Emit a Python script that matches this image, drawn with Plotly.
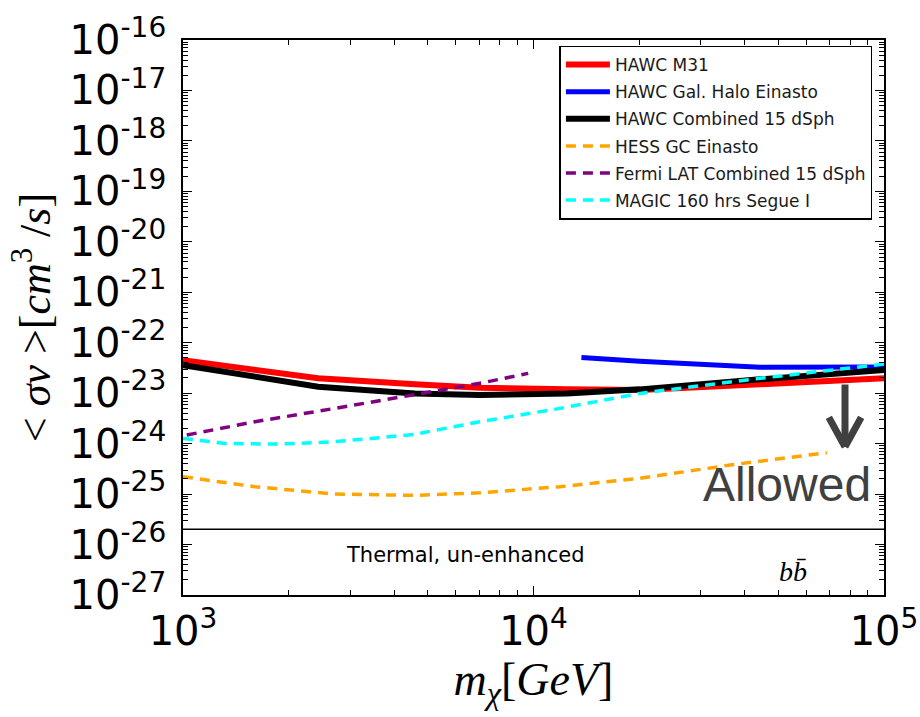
import plotly.graph_objects as go
import math

# ---------------- data ----------------
x_m31 = [1000, 2430, 4590, 7030, 12450, 20100, 44300, 100000]
y_m31 = [4.5e-23, 1.97e-23, 1.50e-23, 1.28e-23, 1.19e-23, 1.16e-23, 1.50e-23, 1.97e-23]

x_halo = [13700, 20100, 44300, 100000]
y_halo = [5.1e-23, 4.3e-23, 3.25e-23, 3.3e-23]

x_dsph = [1000, 2430, 4590, 7030, 12450, 20100, 44300, 100000]
y_dsph = [3.6e-23, 1.34e-23, 9.9e-24, 9.2e-24, 9.9e-24, 1.19e-23, 1.88e-23, 2.88e-23]

x_hess = [1000, 1604, 2715, 4590, 7030, 11900, 20100, 36400, 68700]
y_hess = [2.21e-25, 1.40e-25, 1.00e-25, 9.45e-26, 1.06e-25, 1.40e-25, 2.05e-25, 3.77e-25, 6.6e-25]

x_fermi = [1025, 1604, 2715, 4590, 7030, 9660]
y_fermi = [1.48e-24, 2.72e-24, 5.0e-24, 9.2e-24, 1.57e-23, 2.47e-23]

x_magic = [1000, 1318, 1828, 2540, 3300, 4590, 7030, 11900, 20100, 44300, 100000]
y_magic = [1.27e-24, 1.01e-24, 9.8e-25, 1.06e-24, 1.23e-24, 1.53e-24, 2.72e-24, 5.0e-24, 9.9e-24, 1.97e-23, 3.78e-23]

thermal_value = 2.0e-26
x_exponents = [3, 4, 5]
y_exponents = list(range(-27, -15))
x_ticklabels = ["10<sup>%d</sup>" % e for e in x_exponents]
y_ticklabels = ["10<sup>%d</sup>" % e for e in y_exponents]

series = [
    ("HAWC M31", x_m31, y_m31, "red", 6, "solid"),
    ("HAWC Gal. Halo Einasto", x_halo, y_halo, "blue", 5, "solid"),
    ("HAWC Combined 15 dSph", x_dsph, y_dsph, "black", 6, "solid"),
    ("HESS GC Einasto", x_hess, y_hess, "orange", 3.5, "10px,7px"),
    ("Fermi LAT Combined 15 dSph", x_fermi, y_fermi, "purple", 3.5, "10px,7px"),
    ("MAGIC 160 hrs Segue I", x_magic, y_magic, "cyan", 3.5, "10px,7px"),
]


def minor_vals(exps):
    return [k * 10.0 ** e for e in exps[:-1] for k in range(2, 10)]


fig = go.Figure()
for i, (name, xs, ys, col, w, dash) in enumerate(series):
    fig.add_trace(go.Scatter(x=xs, y=ys, mode="lines", name=name, legendgroup=str(i),
                             line=dict(color=col, width=w, dash=dash)))

# thermal line
fig.add_shape(type="line", xref="paper", x0=0, x1=1, yref="y",
              y0=thermal_value, y1=thermal_value,
              line=dict(color="black", width=1.5))

L = math.log10
arrow_col = "#404040"
# "Allowed" arrow (shaft + chevron), anchored at the tip
tip_x, tip_y = 7.74e4, 8.6e-25
for axo, ayo in [(0, -64), (-17, -31), (17, -31)]:
    fig.add_annotation(x=L(tip_x), y=L(tip_y), xref="x", yref="y", text="",
                       showarrow=True, arrowhead=0, arrowwidth=7,
                       arrowcolor=arrow_col, ax=axo, ay=ayo, standoff=0)

fig.add_annotation(x=L(9.3e4), y=L(1.55e-25), xref="x", yref="y",
                   text="Allowed", showarrow=False, xanchor="right", yanchor="middle",
                   font=dict(family="Liberation Sans, Arial", size=48, color=arrow_col))
fig.add_annotation(x=L(6.4e3), y=-26.21, xref="x", yref="y",
                   text="Thermal, un-enhanced", showarrow=False,
                   font=dict(family="DejaVu Sans", size=21, color="black"))
fig.add_annotation(x=4.74, y=-26.53, xref="x", yref="y",
                   text="<i>bb̄</i>", showarrow=False,
                   font=dict(family="Liberation Serif, DejaVu Serif", size=28, color="black"))

axis_common = dict(type="log", showline=True, linecolor="black", linewidth=1.5,
                   mirror="allticks", ticks="inside", ticklen=9, tickwidth=1,
                   tickcolor="black", showgrid=False, zeroline=False,
                   automargin=False,
                   tickfont=dict(family="DejaVu Sans", size=40, color="black"))

fig.update_layout(
    width=920, height=717,
    margin=dict(l=183, r=36, t=40, b=122),
    paper_bgcolor="white", plot_bgcolor="white",
    xaxis=dict(axis_common, range=[x_exponents[0], x_exponents[-1]],
               tickmode="array", tickvals=[10 ** e for e in x_exponents],
               ticktext=x_ticklabels, ticklabelstandoff=0,
               minor=dict(tickmode="array", tickvals=minor_vals(x_exponents),
                          ticks="inside", ticklen=5, tickwidth=1, tickcolor="black",
                          showgrid=False),
               title=dict(text="<i>m</i><sub><i>χ</i></sub>[<i>GeV</i>]",
                          font=dict(family="Liberation Serif, DejaVu Serif", size=46, color="black"),
                          standoff=4)),
    yaxis=dict(axis_common, range=[y_exponents[0], y_exponents[-1]],
               tickmode="array", tickvals=[10.0 ** e for e in y_exponents],
               ticktext=y_ticklabels, ticklabelstandoff=7,
               minor=dict(tickmode="array", tickvals=minor_vals(y_exponents),
                          ticks="inside", ticklen=5, tickwidth=1, tickcolor="black",
                          showgrid=False),
               title=dict(text="&lt; <i>σv</i> &gt;[<i>cm</i><sup>3</sup> /<i>s</i>]",
                          font=dict(family="Liberation Serif, DejaVu Serif", size=44, color="black"),
                          standoff=5)),
    legend=dict(x=0.537, y=0.99, xanchor="left", yanchor="top",
                bordercolor="black", borderwidth=1.5, bgcolor="white",
                font=dict(family="DejaVu Sans", size=17, color="#1a1a1a"),
                itemwidth=44, tracegroupgap=2),
    showlegend=True,
)

fig.write_html("out.html")
